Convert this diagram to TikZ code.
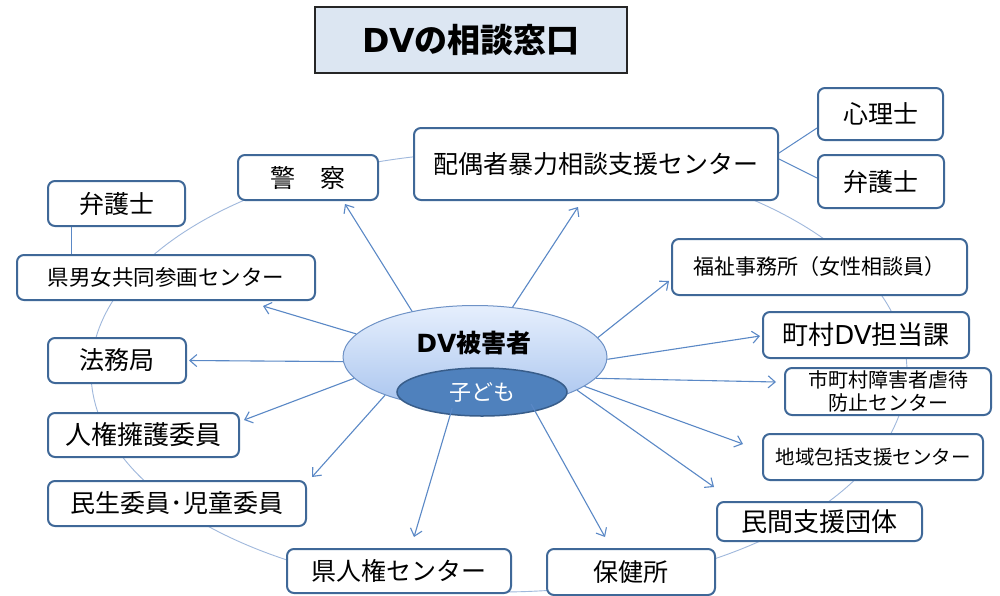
\documentclass[tikz,border=0pt]{standalone}
\usepackage{fontspec}
\setmainfont{Noto Sans CJK JP}
\newfontfamily\widelatin{DejaVu Sans}
\usetikzlibrary{arrows.meta,shapes.geometric}
\definecolor{boxblue}{HTML}{3F6898}
\definecolor{arrblue}{HTML}{5A88C6}
\definecolor{ringblue}{HTML}{9FB8DC}
\definecolor{titlefill}{HTML}{DCE6F2}
\definecolor{kidfill}{HTML}{4F81BD}
\definecolor{kidline}{HTML}{385D8A}
\definecolor{dvtop}{HTML}{E6EFFD}
\definecolor{dvbot}{HTML}{A8C4EE}
\definecolor{dvline}{HTML}{6E92C6}
\begin{document}
\begin{tikzpicture}[x=1pt,y=-1pt,
  box/.style={draw=boxblue, line width=2pt, rounded corners=7pt, fill=white, inner sep=0pt, align=center, text=black},
  arr/.style={draw=arrblue, line width=1.1pt, -{Straight Barb[length=7pt,width=12pt]}},
  link/.style={draw=arrblue, line width=1pt},
  ring/.style={draw=ringblue, line width=0.9pt},
  fs/.style={font=\fontsize{#1}{#1}\selectfont}]
\useasboundingbox (0,0) rectangle (1000,595);
\fill[white] (0,0) rectangle (1000,595);
\draw[ring] (499,372) ellipse [x radius=408, y radius=220];

\node[draw=black!85, line width=2pt, fill=titlefill, minimum width=312pt, minimum height=66pt, inner sep=0pt, font=\fontsize{33}{33}\selectfont\bfseries] (title) at (471,40) {{\widelatin DV}の相談窓口};

\node[box, fs=25, minimum width=140pt, minimum height=45pt] (keisatsu) at (308,177.5) {警　察};
\node[box, fs=25, minimum width=364pt, minimum height=72pt] (haigusha) at (596,164) {配偶者暴力相談支援センター};
\node[box, fs=25, minimum width=125pt, minimum height=52pt] (shinri) at (880.5,114) {心理士};
\node[box, fs=25, minimum width=126pt, minimum height=53pt] (bengoR) at (881,181.5) {弁護士};
\node[box, fs=25, minimum width=137pt, minimum height=45pt] (bengoL) at (116.5,203.5) {弁護士};
\node[box, fs=21.5, minimum width=298pt, minimum height=45pt] (kendanjo) at (166,277.5) {県男女共同参画センター};
\node[box, fs=21, minimum width=295pt, minimum height=56pt] (fukushi) at (819.5,267) {福祉事務所（女性相談員）};
\node[box, fs=25, minimum width=138pt, minimum height=45pt] (houmu) at (117,360.5) {法務局};
\node[box, fs=26, minimum width=206pt, minimum height=46pt] (choson) at (866,335) {町村{\widelatin DV}担当課};
\node[box, font=\fontsize{20}{23}\selectfont, minimum width=206pt, minimum height=47pt] (shichoson) at (888,391.5) {市町村障害者虐待\\防止センター};
\node[box, fs=26, minimum width=191pt, minimum height=44pt] (jinken) at (143.5,435) {人権擁護委員};
\node[box, fs=19.5, minimum width=220pt, minimum height=46pt] (chiiki) at (873,457) {地域包括支援センター};
\node[box, fs=25, minimum width=258pt, minimum height=45pt] (minsei) at (177,503.5) {民生委員･児童委員};
\node[box, fs=26, minimum width=205pt, minimum height=39pt] (minkan) at (819.5,521.5) {民間支援団体};
\node[box, fs=25, minimum width=224pt, minimum height=44pt] (kenjinken) at (399,571) {県人権センター};
\node[box, fs=25, minimum width=168pt, minimum height=46pt] (hoken) at (631,572) {保健所};

\node[ellipse, draw=dvline, line width=1pt, top color=dvtop, bottom color=dvbot, minimum width=264pt, minimum height=103pt, inner sep=0pt] (dv) at (475,357) {};
\node[font=\fontsize{25}{25}\selectfont\bfseries] (dvtext) at (474,343) {{\widelatin DV}被害者};
\node[ellipse, draw=kidline, line width=1.5pt, fill=kidfill, minimum width=170pt, minimum height=48pt, inner sep=0pt, text=white, font=\fontsize{22}{22}\selectfont] (kodomo) at (482,392) {子ども};

\draw[arr] (dv.144.5) -- ([xshift=37pt,yshift=-3pt]keisatsu.south);
\draw[arr] (dv.53) -- ([xshift=-18pt,yshift=-6pt]haigusha.south);
\draw[arr] (dv.169.4) -- ([xshift=97pt,yshift=-5pt]kendanjo.south);
\draw[arr] (dv.182) -- ([xshift=2pt]houmu.east);
\draw[arr] (dv.190) -- ([xshift=4pt,yshift=15pt]jinken.east);
\draw[arr] (dv.203.6) -- ([xshift=5pt,yshift=3pt]minsei.north east);
\draw[arr] (dv.246) -- ([xshift=15pt,yshift=11pt]kenjinken.north);
\draw[arr] (dv.320) -- ([xshift=-26pt,yshift=11pt]hoken.north);
\draw[arr] (dv.342) -- ([xshift=-2pt,yshift=14pt]minkan.north west);
\draw[arr] (dv.345.3) -- ([xshift=-19pt,yshift=13pt]chiiki.west);
\draw[arr] (dv.350.7) -- ([xshift=-8pt,yshift=9.5pt]shichoson.west);
\draw[arr] (dv.359) -- ([xshift=-2pt,yshift=-1pt]choson.west);
\draw[arr] (dv.9.7) -- ([xshift=-2pt,yshift=-14pt]fukushi.west);

\draw[link] ([yshift=11pt]haigusha.east) -- ([yshift=-14pt]shinri.west);
\draw[link] ([yshift=5pt]haigusha.east) -- ([yshift=3.5pt]bengoR.west);
\draw[link] ([xshift=-45.5pt]bengoL.south) -- ([xshift=-45.5pt]bengoL.south |- kendanjo.north);
\end{tikzpicture}
\end{document}
